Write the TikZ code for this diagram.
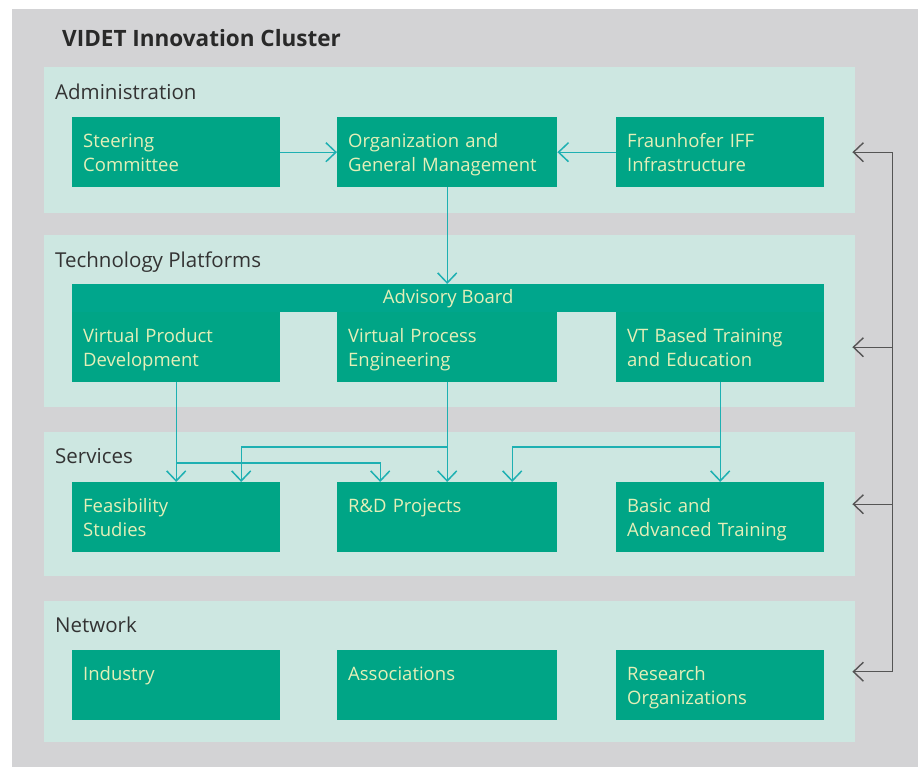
\documentclass[tikz,border=0pt]{standalone}
\usepackage{fontspec}
\setmainfont{Open Sans}
\usetikzlibrary{arrows.meta}

\definecolor{bggray}{HTML}{D3D3D5}
\definecolor{panelcol}{HTML}{CDE7E1}
\definecolor{boxcol}{HTML}{00A586}
\definecolor{boardcol}{HTML}{00A68C}
\definecolor{linkcol}{HTML}{1EB0B2}
\definecolor{boxtxt}{HTML}{E4EFB8}
\definecolor{labtxt}{HTML}{333333}
\definecolor{buscol}{HTML}{555555}

\begin{document}
\begin{tikzpicture}[x=1pt,y=-1pt,
    panel/.style={fill=panelcol, anchor=north west, inner sep=0pt, minimum width=811pt},
    panellabel/.style={anchor=base west, text=labtxt, inner sep=0pt, font=\fontsize{20.5}{24}\selectfont},
    box/.style={fill=boxcol, anchor=north west, align=left, text=boxtxt,
        font=\fontsize{18.5}{24.5}\selectfont, inner xsep=11pt, inner ysep=9pt,
        text height=21pt, text depth=31pt},
    narrow/.style={box, text width=186pt},
    wide/.style={box, text width=198pt},
    link/.style={draw=linkcol, line width=1.3pt, -{Straight Barb[length=10pt, width=19pt, line width=1.5pt]}},
    bus/.style={draw=buscol, line width=1.2pt}
  ]
  \useasboundingbox (0,0) rectangle (918,767);
  \fill[bggray] (12,9) rectangle (918,767);

  \node[anchor=base west, inner sep=0pt, text=labtxt!80!black, font=\fontsize{22.5}{26}\selectfont\bfseries] (title) at (62,47) {VIDET Innovation Cluster};

  % panels
  \node[panel, minimum height=146pt] (adm) at (44,67) {};
  \node[panel, minimum height=172pt] (tech) at (44,235) {};
  \node[panel, minimum height=144pt] (serv) at (44,432) {};
  \node[panel, minimum height=141pt] (net) at (44,601) {};

  \node[panellabel] (admlab) at (55,100) {Administration};
  \node[panellabel] (techlab) at (55,268) {Technology Platforms};
  \node[panellabel] (servlab) at (55,463) {Services};
  \node[panellabel] (netlab) at (55,632) {Network};

  % administration
  \node[narrow] (steer) at (72,117) {Steering\\Committee};
  \node[wide] (org) at (337,117) {Organization and\\General Management};
  \node[narrow] (fraun) at (616,117) {Fraunhofer IFF\\Infrastructure};

  % technology platforms
  \node[fill=boardcol, anchor=north west, minimum width=752pt, minimum height=28pt, inner sep=0pt,
        text=boxtxt, font=\fontsize{18.5}{22}\selectfont] (board) at (72,284) {Advisory Board};
  \node[narrow] (vpd) at (72,312) {Virtual Product\\Development};
  \node[wide] (vpe) at (337,312) {Virtual Process\\Engineering};
  \node[narrow] (vt) at (616,312) {VT Based Training\\and Education};

  % services
  \node[narrow] (feas) at (72,482) {Feasibility\\Studies};
  \node[wide] (rd) at (337,482) {R\&D Projects};
  \node[narrow] (train) at (616,482) {Basic and\\Advanced Training};

  % network
  \node[narrow] (ind) at (72,650) {Industry};
  \node[wide] (assoc) at (337,650) {Associations};
  \node[narrow] (res) at (616,650) {Research\\Organizations};

  % connectors
  \draw[link] (steer.east) -- (org.west);
  \draw[link] (fraun.west) -- (org.east);
  \draw[link] (org.south) -- (board.north -| org.south);

  \draw[link] (vpd.south) -- (feas.north);
  \draw[link] (vpd.south |- 0,463) -| ([xshift=-67pt]rd.north);
  \draw[link] (vpe.south) -- (rd.north);
  \draw[link] (vpe.south |- 0,447) -| ([xshift=65pt]feas.north);
  \draw[link] (vt.south) -- (train.north);
  \draw[link] (vt.south |- 0,447) -| ([xshift=65pt]rd.north);

  % feedback bus
  \path (adm.east |- fraun.east) coordinate (in1) ++(37,0) coordinate (bus1);
  \path (tech.east |- vt.east) coordinate (in2) ++(37,0) coordinate (bus2);
  \path (serv.east) coordinate (in3) ++(37,0) coordinate (bus3);
  \path (net.east) coordinate (in4) ++(37,0) coordinate (bus4);
  \draw[bus] (bus1) -- (bus4);
  \foreach \i in {1,...,4}
    \draw[bus, -{Straight Barb[length=10pt, width=19pt, line width=1.4pt]}] (bus\i) -- ([xshift=-3pt]in\i);
\end{tikzpicture}
\end{document}
